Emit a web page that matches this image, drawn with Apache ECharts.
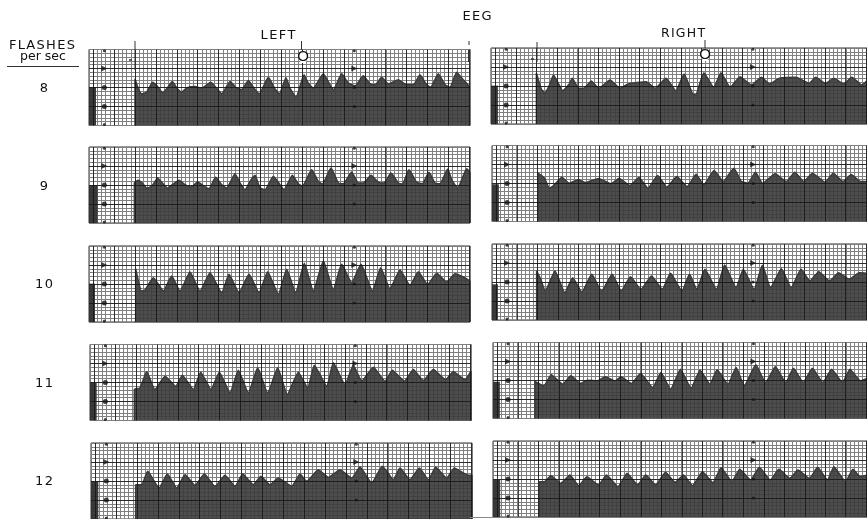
<!DOCTYPE html>
<html><head><meta charset="utf-8">
<script src="https://cdn.jsdelivr.net/npm/echarts@6/dist/echarts.min.js"></script>
<style>html,body{margin:0;padding:0;background:#fff}#c{width:867px;height:519px;overflow:hidden;filter:blur(0.55px)}</style>
</head><body><div id="c"></div>
<script>
const flashRates = ['8','9','1\u200a0','1\u200a1','1\u200a2'];
const left8 = [[138,0],[138,140],[148,110],[158,95],[173,100],[191,130],[203,120],[221,98],[233,110],[250,132],[265,110],[278,100],[293,113],[318,117],[338,112],[365,130],[383,112],[398,95],[423,132],[443,112],[458,108],[478,135],[493,115],[511,95],[538,145],[558,110],[571,95],[591,143],[603,112],[621,85],[645,152],[658,127],[673,112],[703,155],[723,122],[733,107],[758,155],[778,127],[798,119],[823,149],[843,125],[858,122],[878,145],[898,125],[928,137],[953,122],[973,122],[993,152],[1013,122],[1025,115],[1048,155],[1068,122],[1083,115],[1103,160],[1123,137],[1141,115],[1141,0]];
const right8 = [[138,0],[138,153],[153,105],[163,93],[176,113],[190,147],[203,125],[218,100],[238,120],[247,137],[267,107],[282,107],[305,129],[327,107],[362,132],[392,107],[417,120],[472,127],[499,107],[532,137],[562,100],[587,150],[612,92],[622,87],[647,154],[677,110],[699,154],[727,110],[757,142],[792,117],[822,140],[847,120],[877,137],[927,140],[967,122],[987,140],[1017,122],[1042,137],[1072,120],[1097,140],[1127,117],[1143,130],[1143,0]];
const left9 = [[136,0],[136,120],[148,128],[160,120],[173,105],[188,110],[206,135],[220,120],[236,105],[250,115],[270,128],[288,115],[306,108],[326,123],[346,110],[360,103],[380,137],[398,115],[413,105],[438,148],[453,120],[468,100],[483,125],[498,143],[513,105],[528,100],[553,140],[573,115],[585,100],[610,143],[628,118],[640,110],[668,160],[688,125],[700,117],[726,165],[748,120],[763,118],[788,153],[808,120],[823,120],[846,143],[868,122],[885,120],[906,150],[928,120],[940,117],[960,160],[983,122],[1000,118],[1020,152],[1038,120],[1053,118],[1076,162],[1088,130],[1106,105],[1133,163],[1143,150],[1143,0]];
const right9 = [[140,0],[140,145],[160,130],[175,100],[190,110],[213,133],[235,115],[263,125],[285,117],[325,129],[363,113],[387,130],[420,108],[448,132],[475,100],[505,138],[533,103],[563,135],[595,105],[622,142],[645,110],[677,153],[705,120],[737,160],[760,120],[780,115],[803,148],[825,115],[863,143],[897,120],[923,148],[950,120],[977,145],[1015,118],[1040,145],[1070,120],[1095,141],[1123,120],[1143,120],[1143,0]];
const left10 = [[140,0],[140,160],[158,93],[168,96],[193,133],[223,93],[248,138],[273,93],[303,150],[333,93],[363,148],[398,88],[420,143],[450,88],[480,143],[510,88],[536,151],[568,83],[593,158],[620,88],[646,176],[673,93],[703,183],[733,98],[758,173],[788,118],[816,173],[850,93],[875,163],[903,100],[933,156],[963,110],[988,151],[1016,113],[1043,146],[1073,120],[1098,145],[1143,120],[1143,0]];
const right10 = [[136,0],[136,147],[149,122],[162,87],[192,147],[222,82],[246,127],[274,84],[304,137],[334,87],[366,137],[394,87],[422,130],[454,92],[486,132],[519,92],[544,140],[579,87],[602,137],[624,92],[649,152],[684,92],[709,165],[744,97],[766,152],[799,92],[824,164],[849,97],[882,154],[912,97],[942,152],[969,117],[996,145],[1029,117],[1056,142],[1089,122],[1119,142],[1143,140],[1143,0]];
const left11 = [[133,0],[133,93],[150,98],[170,146],[195,93],[225,133],[257,103],[277,136],[310,93],[332,145],[363,93],[388,145],[420,83],[445,151],[475,83],[503,158],[533,83],[563,158],[592,78],[625,145],[653,98],[673,166],[710,103],[730,173],[765,108],[790,166],[815,118],[850,160],[885,118],[907,151],[943,118],[970,153],[1000,120],[1030,153],[1067,123],[1090,146],[1125,123],[1143,148],[1143,0]];
const right11 = [[128,0],[128,111],[155,98],[178,131],[213,103],[238,128],[268,105],[288,115],[318,113],[343,125],[373,113],[391,125],[423,105],[451,135],[488,93],[513,138],[543,88],[573,148],[605,91],[633,145],[663,103],[685,146],[718,103],[743,153],[768,98],[803,161],[833,108],[863,155],[895,108],[918,151],[948,108],[976,151],[1008,108],[1035,148],[1068,108],[1091,148],[1123,113],[1143,120],[1143,0]];
const left12 = [[134,0],[134,103],[152,103],[170,143],[204,93],[229,135],[257,93],[282,133],[312,101],[340,135],[372,98],[402,131],[432,98],[455,135],[487,103],[510,128],[537,103],[562,123],[602,98],[627,135],[647,113],[682,148],[712,125],[747,148],[782,123],[807,156],[842,108],[874,158],[907,118],[927,153],[957,118],[985,153],[1012,118],[1034,155],[1067,123],[1090,153],[1132,131],[1143,131],[1143,0]];
const right12 = [[142,0],[142,106],[157,106],[177,124],[207,101],[235,126],[262,94],[287,121],[322,96],[347,126],[382,91],[410,131],[442,96],[467,126],[497,96],[527,134],[557,104],[582,126],[610,94],[640,136],[672,103],[697,148],[730,106],[754,143],[787,111],[814,149],[847,111],[874,143],[907,116],[932,141],[967,116],[992,149],[1022,111],[1042,151],[1077,106],[1100,143],[1122,121],[1143,125],[1143,0]];
const traces = [left8,right8,left9,right9,left10,right10,left11,right11,left12,right12];
const baselineWidth = [21,21,26,21,18,18,20,21,22,22];
const baselineLevel = [115,115,113,112,115,107,113,110,113,111];
const panelLeft = [89,491,89,492,89,492,90,493,91,493];
const panelTop = [49.5,48,147,145.5,246,244,344.5,342.5,443,441];
const majorX = [13,76,138,201,264,326,389,452,514,577,640,702,765,828,890,953,1016,1078,1141];
const majorY = [57,114,171];

const grid=[],xAxis=[],yAxis=[],series=[];
traces.forEach((t,i)=>{
  grid.push({left:panelLeft[i],top:panelTop[i],width:381,height:76,show:true,borderColor:'#333',borderWidth:1,backgroundColor:'#fff'});
  xAxis.push({gridIndex:i,type:'value',min:0,max:1143,interval:12.54,axisLine:{show:false},axisTick:{show:false},axisLabel:{show:false},splitLine:{show:true,lineStyle:{color:'#808080',width:1}}});
  yAxis.push({gridIndex:i,type:'value',min:0,max:228,interval:11.4,axisLine:{show:false},axisTick:{show:false},axisLabel:{show:false},splitLine:{show:true,lineStyle:{color:'#808080',width:1}}});
  const base={type:'line',xAxisIndex:i,yAxisIndex:i,showSymbol:false,symbol:'none',silent:true,animation:false};
  const w=baselineWidth[i],h=baselineLevel[i];
  series.push({...base,z:3,data:[[0,0],[0,h],[w,h],[w,0]],lineStyle:{width:0},areaStyle:{color:'#2f2f2f',opacity:.95,origin:'start'}});
  series.push({...base,z:3,smooth:0.15,data:t,lineStyle:{width:1.5,color:'#3a3a3a'},areaStyle:{color:'#3a3a3a',opacity:.9,origin:'start'}});
  series.push({...base,z:4,data:[],markLine:{silent:true,symbol:'none',animation:false,label:{show:false},lineStyle:{type:'solid',width:1,color:'#151515',opacity:.8},
    data:majorX.map(x=>({xAxis:x})).concat(majorY.map(y=>({yAxis:y})))}});
  const mk=(x,y,sym,size,rot)=>({value:[x,y],symbol:sym,symbolSize:size,symbolRotate:rot||0});
  series.push({type:'scatter',xAxisIndex:i,yAxisIndex:i,z:5,silent:true,animation:false,itemStyle:{color:'#111'},
    data:[mk(46,224,'circle',3),mk(46,171,'triangle',6,-90),mk(46,114,'circle',5),mk(46,57,'circle',5),mk(46,3,'circle',3),
          mk(796,224,'circle',3),mk(796,171,'triangle',6,-90),mk(796,114,'circle',3),mk(796,57,'circle',3)]});
});
const txt=(x,y,s,size,extra)=>({type:'text',x,y,silent:true,z:11,style:Object.assign({text:s,font:size+'px "DejaVu Sans"',fill:'#111',textAlign:'center',textVerticalAlign:'middle'},extra||{})});
const ln=(x1,y1,x2,y2,w,c)=>({type:'line',silent:true,z:10,shape:{x1,y1,x2,y2},style:{stroke:c||'#333',lineWidth:w||1}});
const blank=(cx,cy)=>({type:'ellipse',silent:true,z:10,shape:{cx,cy,rx:4.5,ry:6},style:{fill:'#fff'}});
const rowY=[89,187,285,384,482];
const graphic=[
  txt(477,17,'E\u200aE\u200aG',13),
  txt(278,36,'L\u200aE\u200aF\u200aT',13),
  txt(683,34,'R\u200aI\u200aG\u200aH\u200aT',12.5),
  txt(42,46,'F\u200aL\u200aA\u200aS\u200aH\u200aE\u200aS',13),
  txt(43,57,'per sec',12.5),
  ln(7,66.5,79,66.5,1),
  blank(303,57),blank(705,55),
  txt(303,57,'O',13,{font:'15px "Liberation Sans"'}),txt(705,55,'O',13,{font:'15px "Liberation Sans"'}),
  ln(135,41,135,70),ln(129,60,132,60,1.5),
  ln(301.5,41,301.5,50),ln(469,41,469,45),ln(469,50,469,62,2),
  ln(537,42,537,62),ln(531,59,534,59,1.5),
  ln(705,40,705,48),
  ln(470,517.5,493,517.5,1,'#888')
].concat(flashRates.map((r,i)=>txt(44,rowY[i],r,13)));
const chart=echarts.init(document.getElementById('c'),null,{renderer:'canvas',width:867,height:519});
chart.setOption({animation:false,backgroundColor:'#fff',grid,xAxis,yAxis,series,graphic});
</script></body></html>
